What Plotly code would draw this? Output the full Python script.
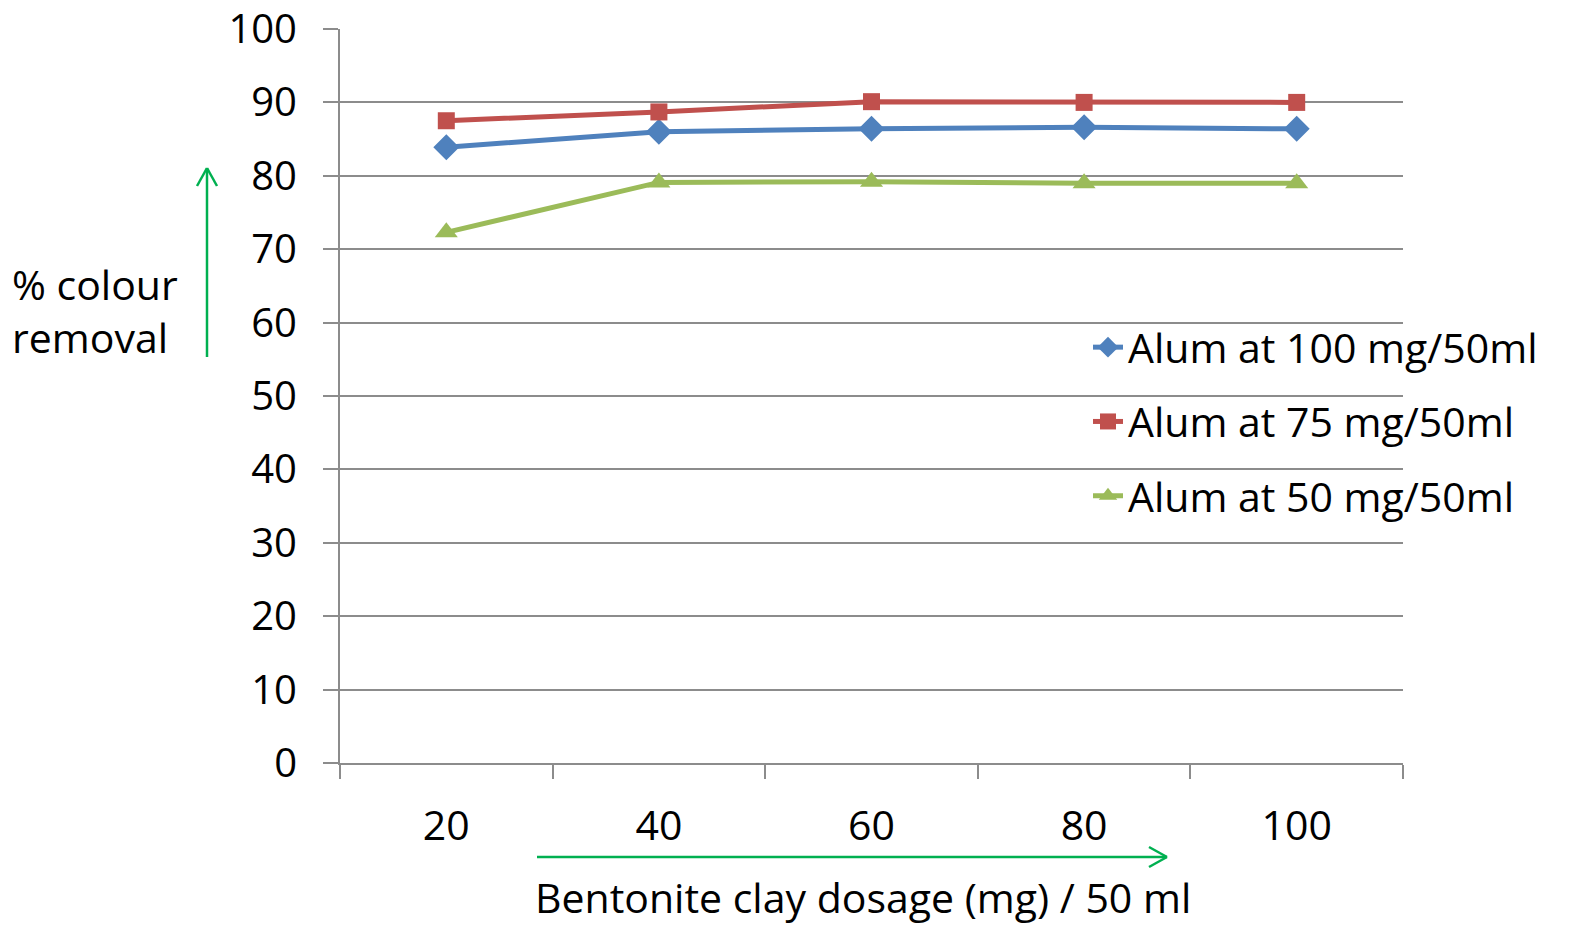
import plotly.graph_objects as go

categories = ["20", "40", "60", "80", "100"]
alum_100 = [83.9, 86.0, 86.4, 86.6, 86.4]
alum_75 = [87.5, 88.7, 90.1, 90.0, 90.0]
alum_50 = [72.3, 79.1, 79.2, 79.0, 79.0]
series_names = ["Alum at 100 mg/50ml", "Alum at 75 mg/50ml", "Alum at 50 mg/50ml"]
y_ticks = [0, 10, 20, 30, 40, 50, 60, 70, 80, 90, 100]

FONT = "Open Sans"
FS = 41
GRID = "#8c8c8c"
ARROW = "#00B050"

W, H = 1576, 926
L, R, T, B = 340, 173, 29, 163
PW, PH = W - L - R, H - T - B


def px(x):
    return (x - L) / PW


def py(y):
    return (H - B - y) / PH


fig = go.Figure()
styles = [
    (alum_100, "#4F81BD", "diamond", 20),
    (alum_75, "#C0504D", "square", 17),
    (alum_50, "#9BBB59", "triangle-up", 20),
]
for name, (vals, col, sym, size) in zip(series_names, styles):
    fig.add_trace(go.Scatter(
        x=categories, y=vals, name=name, mode="lines+markers",
        line=dict(color=col, width=5),
        marker=dict(symbol=sym, size=size, color=col),
        legendgroup=name, cliponaxis=False,
    ))

shapes = [
    # vertical arrow
    dict(type="line", xref="paper", yref="paper", x0=px(207), x1=px(207), y0=py(357), y1=py(168),
         line=dict(color=ARROW, width=2.5)),
    dict(type="line", xref="paper", yref="paper", x0=px(197), x1=px(207), y0=py(186), y1=py(168),
         line=dict(color=ARROW, width=2.5)),
    dict(type="line", xref="paper", yref="paper", x0=px(217), x1=px(207), y0=py(186), y1=py(168),
         line=dict(color=ARROW, width=2.5)),
    # horizontal arrow
    dict(type="line", xref="paper", yref="paper", x0=px(537), x1=px(1167), y0=py(857), y1=py(857),
         line=dict(color=ARROW, width=2.5)),
    dict(type="line", xref="paper", yref="paper", x0=px(1149), x1=px(1167), y0=py(847), y1=py(857),
         line=dict(color=ARROW, width=2.5)),
    dict(type="line", xref="paper", yref="paper", x0=px(1149), x1=px(1167), y0=py(867), y1=py(857),
         line=dict(color=ARROW, width=2.5)),
]

annotations = [
    dict(text="% colour<br>removal", xref="paper", yref="paper", x=px(10), y=py(310),
         xanchor="left", yanchor="middle", align="left", showarrow=False,
         font=dict(family=FONT, size=FS, color="black")),
    dict(text="Bentonite clay dosage (mg) / 50 ml", xref="paper", yref="paper", x=px(863), y=py(897),
         xanchor="center", yanchor="middle", showarrow=False,
         font=dict(family=FONT, size=FS, color="black")),
]

fig.update_layout(
    width=W, height=H,
    margin=dict(l=L, r=R, t=T, b=B, autoexpand=False),
    paper_bgcolor="white", plot_bgcolor="white",
    font=dict(family=FONT, size=FS, color="black"),
    showlegend=True,
    legend=dict(x=px(1088), y=py(314), xanchor="left", yanchor="top",
                bgcolor="rgba(0,0,0,0)", tracegroupgap=18,
                font=dict(family=FONT, size=FS, color="black")),
    shapes=shapes,
    annotations=annotations,
)
fig.update_xaxes(
    type="category", range=[-0.5, 4.5], showgrid=False,
    showline=True, linecolor=GRID, linewidth=2,
    ticks="outside", tickson="boundaries", ticklen=14, tickcolor=GRID, tickwidth=1.5,
    ticklabelstandoff=26, ticklabeloverflow="allow",
    tickfont=dict(family=FONT, size=FS, color="black"),
)
fig.update_yaxes(
    range=[0, 100], tickvals=y_ticks, showgrid=True, gridcolor=GRID, gridwidth=2,
    showline=True, linecolor=GRID, linewidth=2, zeroline=False,
    ticks="outside", ticklen=15, tickcolor=GRID, tickwidth=2,
    ticklabelstandoff=18, ticklabeloverflow="allow",
    tickfont=dict(family=FONT, size=40, color="black"),
)

fig.write_html("out.html")
